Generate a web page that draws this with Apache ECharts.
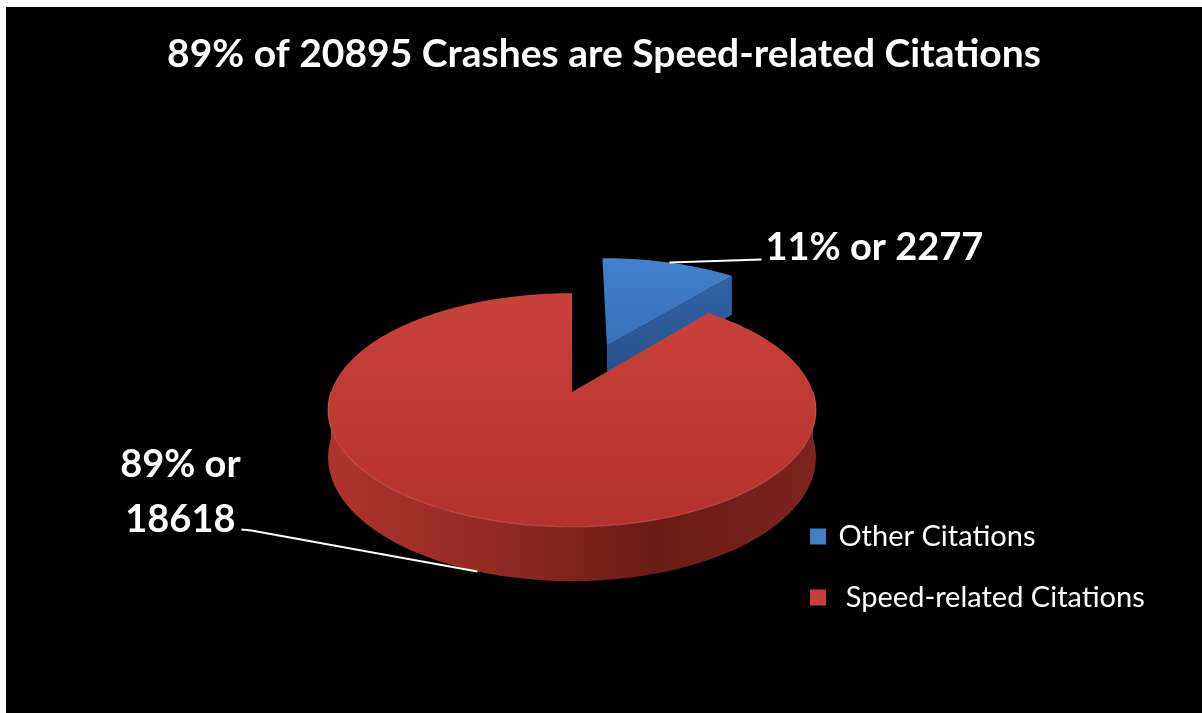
<!DOCTYPE html>
<html>
<head>
<meta charset="utf-8">
<script src="https://cdn.jsdelivr.net/npm/echarts@6/dist/echarts.min.js"></script>
<style>
  html, body { margin: 0; padding: 0; background: #ffffff; }
  #chart { position: absolute; left: 6px; top: 7px; width: 1196px; height: 706px; background: #000; }
</style>
</head>
<body>
<div id="chart"></div>
<script>
// Citation counts behind the crashes
const categories = ['Other Citations', 'Speed-related Citations'];
const citations = [2277, 18618];
const explodeBy = [0.46, 0];

const total = citations.reduce((a, b) => a + b, 0);
const pct = v => Math.round(v / total * 100);

// Palette: top face gradient, cut face, outer wall
const palette = [
  { top: ['#4282cc', '#3670b8'], cut: ['#3064a6', '#254e88'], wall: ['#2f5e9c', '#254e88'], legend: '#3f7fcc' },
  { top: ['#c9413a', '#b3322c'], cut: ['#8c2823', '#6a1c18'], wall: ['#ad342e', '#932a24', '#6a1b17', '#7c231e'], legend: '#c9403a' }
];

// Tilted disc projection with mild perspective
const CX = 566, CY = 385, RX = 241, RY = 114, P = 0.154, H = 46;
function proj(X, Y, drop) {
  const s = 1 / (1 + P * Y);
  return [CX + RX * X * s, CY - RY * Y * s + drop * H * s];
}

function sliceAngles(i) {
  let before = 0;
  for (let k = 0; k < i; k++) before += citations[k];
  const start = before / total * Math.PI * 2;
  const end = start + citations[i] / total * Math.PI * 2;
  return [start, end];
}

function arc(ox, oy, a0, a1, drop) {
  const pts = [];
  const n = Math.max(4, Math.ceil(Math.abs(a1 - a0) / (Math.PI / 180)));
  for (let j = 0; j <= n; j++) {
    const a = a0 + (a1 - a0) * j / n;
    pts.push(proj(ox + Math.sin(a), oy + Math.cos(a), drop));
  }
  return pts;
}

function grad(colors, vertical) {
  const stops = colors.map((c, k) => ({ offset: colors.length === 1 ? 0 : k / (colors.length - 1), color: c }));
  return vertical ? new echarts.graphic.LinearGradient(0, 0, 0, 1, stops)
                  : new echarts.graphic.LinearGradient(0, 0, 1, 0, stops);
}

function renderSlice(params, api) {
  const i = params.seriesIndex;
  const value = api.value(0);
  const [start, end] = sliceAngles(i);
  const mid = (start + end) / 2;
  const ox = explodeBy[i] * Math.sin(mid), oy = explodeBy[i] * Math.cos(mid);
  const pal = palette[i];
  const children = [];

  const c0 = proj(ox, oy, 0), c1 = proj(ox, oy, 1);
  const face = a => {
    const r0 = proj(ox + Math.sin(a), oy + Math.cos(a), 0);
    const r1 = proj(ox + Math.sin(a), oy + Math.cos(a), 1);
    return [c0, r0, r1, c1];
  };
  // cut faces turned toward the viewer
  if (Math.sin(start) < -1e-6) {
    children.push({ type: 'polygon', shape: { points: face(start) }, style: { fill: grad(pal.cut, true) } });
  }
  if (Math.sin(end) > 1e-6) {
    children.push({ type: 'polygon', shape: { points: face(end) }, style: { fill: grad(pal.cut, true) } });
  }
  // front outer wall
  const a0 = Math.max(start, Math.PI / 2), a1 = Math.min(end, Math.PI * 1.5);
  if (a1 > a0) {
    const topEdge = arc(ox, oy, a0, a1, 0);
    const botEdge = arc(ox, oy, a1, a0, 1);
    children.push({ type: 'polygon', shape: { points: topEdge.concat(botEdge) }, style: { fill: grad(pal.wall, false) } });
  }
  // top face
  const rim = arc(ox, oy, start, end, 0);
  children.push({ type: 'polygon', shape: { points: [c0].concat(rim) }, style: { fill: grad(pal.top, true) } });
  if (a1 > a0) {
    children.push({ type: 'polyline', shape: { points: arc(ox, oy, a0, a1, 0) },
      style: { stroke: 'rgba(235,110,100,0.5)', lineWidth: 1.2, fill: null } });
  }

  // value label with leader line
  if (i === 0) {
    const p = proj(ox + Math.sin(mid), oy + Math.cos(mid), 0);
    const q = [p[0] + 92, p[1] - 3];
    children.push({ type: 'polyline', shape: { points: [p, q] }, style: { stroke: '#ffffff', lineWidth: 2, fill: null } });
    children.push({ type: 'text', x: q[0] + 4, y: q[1] + 7,
      style: { text: pct(value) + '% or ' + value, fill: '#ffffff', font: 'bold 38px Lato', align: 'left', verticalAlign: 'bottom' } });
  } else {
    const p = proj(ox + Math.sin(mid), oy + Math.cos(mid), 1);
    const q = [p[0] - 236, p[1] - 42];
    children.push({ type: 'polyline', shape: { points: [p, [q[0] + 10, q[1] + 1], q] }, style: { stroke: '#ffffff', lineWidth: 2, fill: null } });
    children.push({ type: 'text', x: q[0] - 61, y: q[1] + 18,
      style: { text: pct(value) + '% or\n' + value, fill: '#ffffff', font: 'bold 38px Lato', lineHeight: 55,
               align: 'center', verticalAlign: 'bottom' } });
  }
  return { type: 'group', children };
}

const chart = echarts.init(document.getElementById('chart'), null, { renderer: 'canvas' });
chart.setOption({
  backgroundColor: '#000000',
  animation: false,
  title: {
    text: pct(citations[1]) + '% of ' + total + ' Crashes are Speed-related Citations',
    left: 'center',
    top: 23,
    textStyle: { color: '#ffffff', fontFamily: 'Lato', fontWeight: 'bold', fontSize: 39 }
  },
  legend: {
    orient: 'vertical',
    left: 799,
    top: 510,
    itemWidth: 16,
    itemHeight: 16,
    itemGap: 32,
    icon: 'rect',
    data: categories,
    formatter: name => (name === categories[1] ? '  ' : ' ') + name,
    textStyle: { color: '#ffffff', fontFamily: 'Lato', fontSize: 29, lineHeight: 28 }
  },
  series: categories.map((name, i) => ({
    type: 'custom',
    name: name,
    coordinateSystem: 'none',
    renderItem: renderSlice,
    itemStyle: { color: palette[i].legend },
    z: 2 + i,
    data: [[citations[i]]]
  }))
});
</script>
</body>
</html>
